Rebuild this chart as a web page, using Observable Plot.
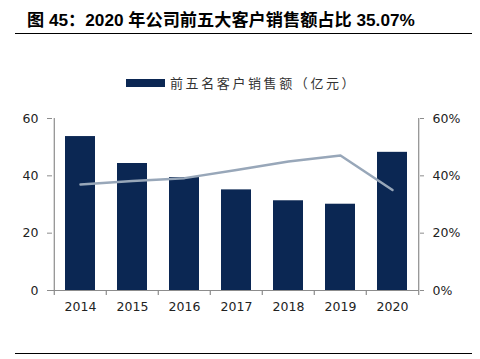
<!DOCTYPE html>
<html>
<head>
<meta charset="utf-8">
<script src="https://cdn.jsdelivr.net/npm/d3@7"></script>
<script src="https://cdn.jsdelivr.net/npm/@observablehq/plot@0.6"></script>
<style>
  html, body { margin: 0; padding: 0; background: #fff; }
  #wrap { position: relative; width: 480px; height: 359px; overflow: hidden; }
  #title { position: absolute; left: 27px; top: 6px; font-family: "Liberation Sans", "Noto Sans CJK SC", sans-serif; font-weight: bold; font-size: 17.2px; color: #000; white-space: nowrap; }
  .hr { position: absolute; left: 15px; width: 457px; height: 0; border-top: 1.3px solid #000; }
  #legend { position: absolute; left: 126px; top: 73px; display: flex; align-items: center; font-family: "Noto Sans CJK SC", sans-serif; font-size: 13px; color: #333; letter-spacing: 2.6px; white-space: nowrap; }
  #legend .sw { width: 39px; height: 8px; background: #0b2753; margin-right: 5px; }
  #chart { position: absolute; left: 0; top: 100px; }
</style>
</head>
<body>
<div id="wrap">
  <div id="title">图 45：2020 年公司前五大客户销售额占比 35.07%</div>
  <div class="hr" style="top:33px"></div>
  <div id="legend"><span class="sw"></span><span>前五名客户销售额（亿元）</span></div>
  <div id="chart"></div>
  <div class="hr" style="top:353px"></div>
</div>
<script>
const years = ["2014", "2015", "2016", "2017", "2018", "2019", "2020"];
const sales = [53.7, 44.3, 39.4, 35.1, 31.3, 30.1, 48.2];
const share = [37.0, 38.2, 39.2, 42.0, 45.0, 47.1, 35.07];
const leftTicks = [0, 20, 40, 60];
const rightTicks = [0, 20, 40, 60];

const data = years.map((y, i) => ({year: y, sales: sales[i], share: share[i]}));

const W = 480, H = 230, ML = 52, MR = 61, MT = 18, MB = 40;
const step = (W - ML - MR) / years.length;
const axisColor = "#8c8c8c";

const chart = Plot.plot({
  width: W,
  height: H,
  marginLeft: ML,
  marginRight: MR,
  marginTop: MT,
  marginBottom: MB,
  style: {fontFamily: "DejaVu Sans, sans-serif", fontSize: "12.5px", color: "#222", background: "transparent", overflow: "visible"},
  x: {domain: years, paddingInner: 0.43, paddingOuter: 0.215, label: null},
  y: {domain: [0, 60], label: null},
  marks: [
    Plot.barY(data, {x: "year", y: "sales", fill: "#0b2753"}),
    Plot.line(data, {x: "year", y: "share", stroke: "#98a7b9", strokeWidth: 2.5}),
    Plot.ruleY([0], {stroke: axisColor, strokeWidth: 1.2}),
    Plot.ruleX([years[0]], {x: d => d, dx: -step / 2, stroke: axisColor, strokeWidth: 1.2}),
    Plot.ruleX([years[years.length - 1]], {x: d => d, dx: step / 2, stroke: axisColor, strokeWidth: 1.2}),
    Plot.ruleX(years, {x: d => d, dx: -step / 2, y1: 0, y2: 0, insetBottom: -5, stroke: axisColor, strokeWidth: 1.2}),
    Plot.ruleX([years[years.length - 1]], {x: d => d, dx: step / 2, y1: 0, y2: 0, insetBottom: -5, stroke: axisColor, strokeWidth: 1.2}),
    Plot.axisX({tickSize: 0, tickPadding: 12, fontSize: 12.5, label: null}),
    Plot.axisY({anchor: "left", ticks: leftTicks, tickSize: 5, tickPadding: 9, stroke: axisColor, fontSize: 12.5, label: null}),
    Plot.axisY({anchor: "right", ticks: rightTicks, tickSize: 4, tickPadding: 9, tickFormat: d => d + "%", stroke: axisColor, fontSize: 12.5, label: null})
  ]
});
document.getElementById("chart").appendChild(chart);
</script>
</body>
</html>
